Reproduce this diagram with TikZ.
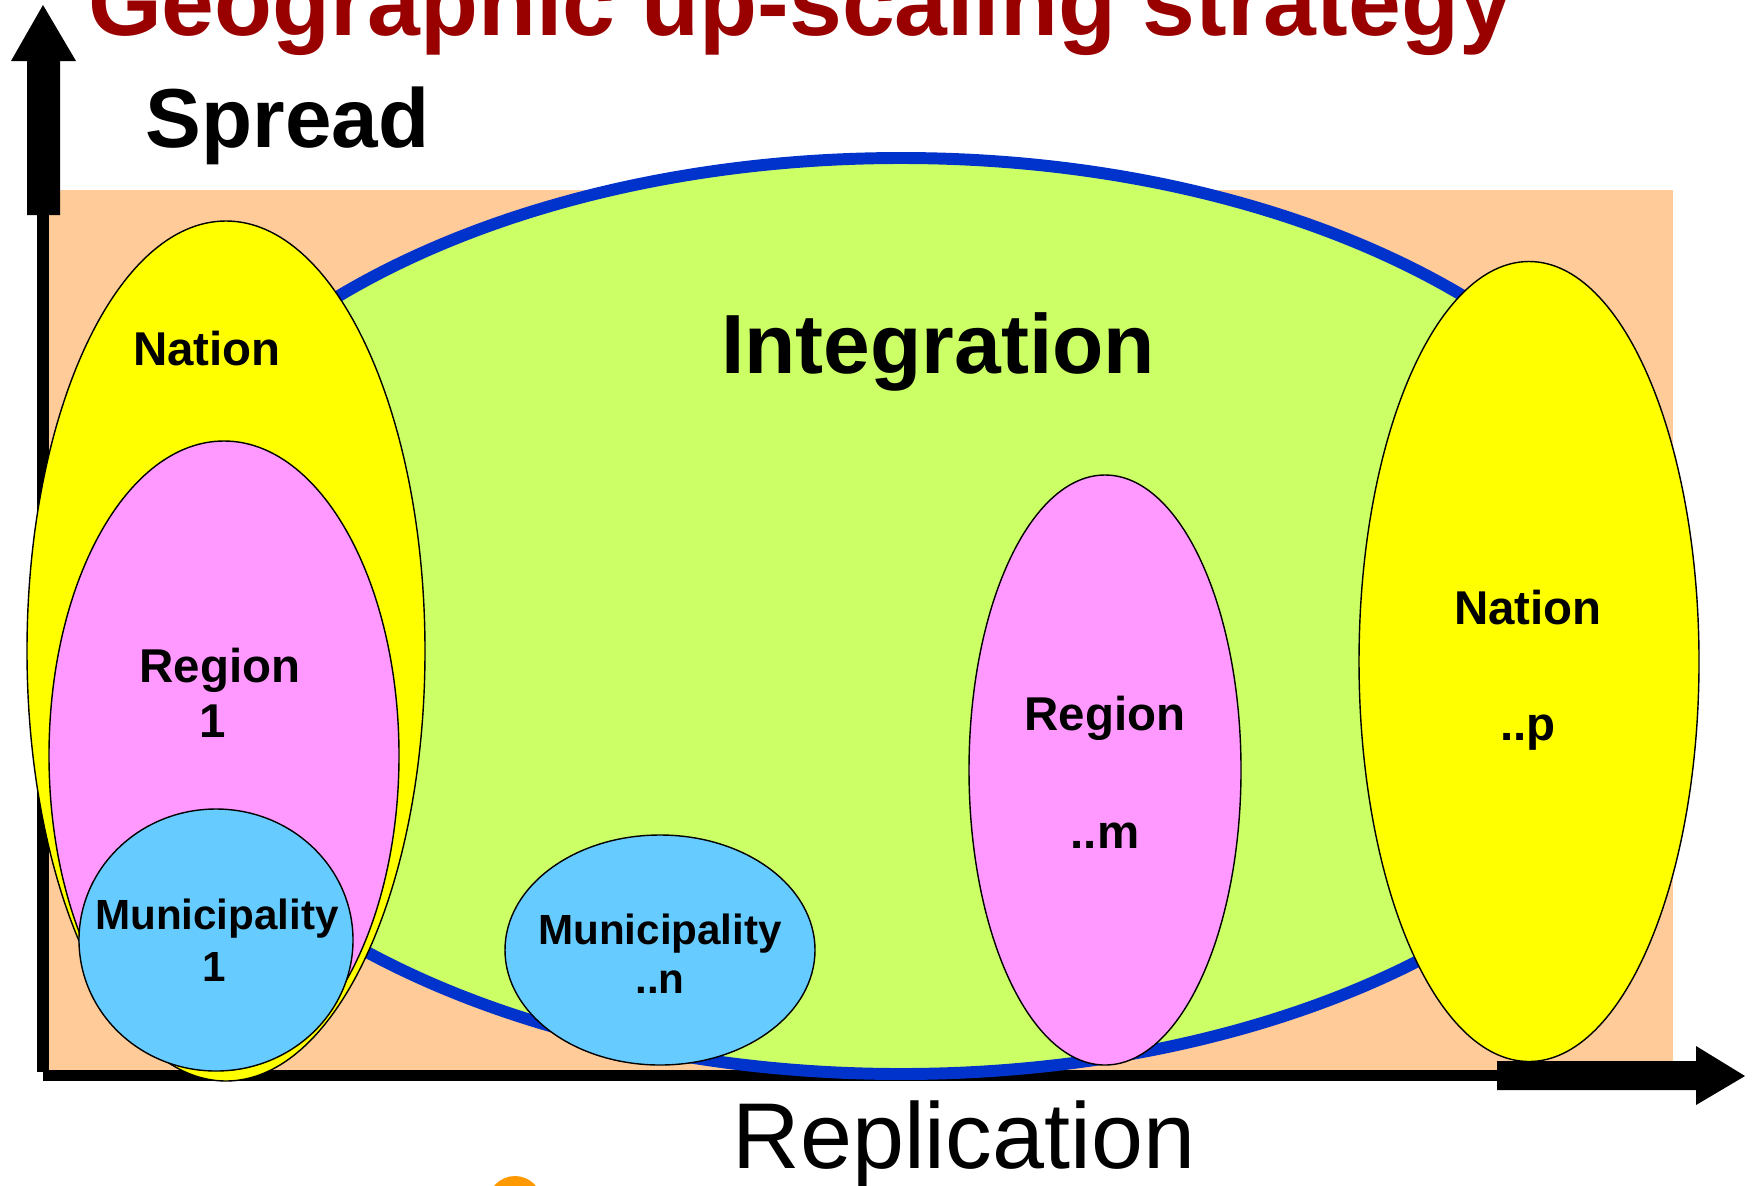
\documentclass[tikz,border=0pt]{standalone}
\usepackage{fontspec}
\setmainfont{Liberation Sans}
\usetikzlibrary{shapes.geometric}

\definecolor{peach}{HTML}{FFCC99}
\definecolor{intgreen}{HTML}{CCFF66}
\definecolor{intblue}{HTML}{0033CC}
\definecolor{natyellow}{HTML}{FFFF00}
\definecolor{regpink}{HTML}{FF99FF}
\definecolor{municyan}{HTML}{66CCFF}
\definecolor{titlered}{HTML}{990000}
\definecolor{logoorange}{HTML}{FF9900}

\begin{document}
\begin{tikzpicture}[
    blob/.style={ellipse, draw=black, line width=0.4pt, inner sep=0pt},
    lbl/.style={anchor=base, inner sep=0pt, font=\fontsize{13.5}{16}\selectfont\bfseries},
    mlbl/.style={lbl, font=\fontsize{12}{14}\selectfont\bfseries}
  ]
    \useasboundingbox (0,0) rectangle (17.56,11.85);

    % background field
    \fill[peach] (0.49,1.15) rectangle (16.73,9.95);

    % axes
    \fill (0.37,1.13) rectangle (0.49,9.70);
    \fill (0.27,9.70) -- (0.60,9.70) -- (0.60,11.24) -- (0.76,11.24) -- (0.43,11.80) -- (0.11,11.24) -- (0.27,11.24) -- cycle;
    \fill (0.43,1.04) rectangle (14.97,1.15);
    \fill (14.97,0.95) -- (16.96,0.95) -- (16.96,0.80) -- (17.45,1.09) -- (16.96,1.39) -- (16.96,1.24) -- (14.97,1.24) -- cycle;

    \node[anchor=base, inner sep=0pt, text=titlered, font=\fontsize{27}{32}\selectfont\bfseries] (title) at (8.00,11.50) {Geographic up-scaling strategy};
    \node[anchor=base, inner sep=0pt, font=\fontsize{23.8}{28}\selectfont\bfseries] (spread) at (2.875,10.38) {Spread};
    \node[anchor=base, inner sep=0pt, font=\fontsize{26.6}{32}\selectfont] (repl) at (9.64,0.17) {Replication};

    % integration
    \node[blob, draw=intblue, line width=3.4pt, fill=intgreen, minimum width=15.72cm, minimum height=9.16cm] (integ) at (9.01,5.69) {};
    \node[anchor=base, inner sep=0pt, font=\fontsize{23.9}{28}\selectfont\bfseries] (integlbl) at (9.38,8.12) {Integration};

    % first nation
    \node[blob, fill=natyellow, minimum width=3.98cm, minimum height=8.60cm] (nat1) at (2.26,5.34) {};
    \node[blob, fill=regpink, minimum width=3.50cm, minimum height=6.29cm] (reg1) at (2.24,4.295) {};
    \node[blob, fill=municyan, minimum width=2.74cm, minimum height=2.62cm] (mun1) at (2.16,2.45) {};
    \node[lbl] (nat1a) at (2.07,8.20) {Nation};
    \node[lbl] (reg1a) at (2.20,5.03) {Region};
    \node[lbl] (reg1b) at (2.13,4.48) {1};
    \node[mlbl] (mun1a) at (2.17,2.56) {Municipality};
    \node[mlbl] (mun1b) at (2.14,2.04) {1};

    % replicated units
    \node[blob, fill=municyan, minimum width=3.10cm, minimum height=2.30cm] (munn) at (6.60,2.35) {};
    \node[mlbl] (munna) at (6.60,2.41) {Municipality};
    \node[mlbl] (munnb) at (6.60,1.92) {..n};

    \node[blob, fill=regpink, minimum width=2.72cm, minimum height=5.90cm] (regm) at (11.05,4.15) {};
    \node[lbl] (regma) at (11.05,4.55) {Region};
    \node[lbl] (regmb) at (11.05,3.37) {..m};

    \node[blob, fill=natyellow, minimum width=3.40cm, minimum height=8.00cm] (natp) at (15.29,5.235) {};
    \node[lbl] (natpa) at (15.28,5.61) {Nation};
    \node[lbl] (natpb) at (15.28,4.45) {..p};

    % cut-off logo
    \fill[logoorange] (5.15,-0.18) circle (0.27);
\end{tikzpicture}
\end{document}
